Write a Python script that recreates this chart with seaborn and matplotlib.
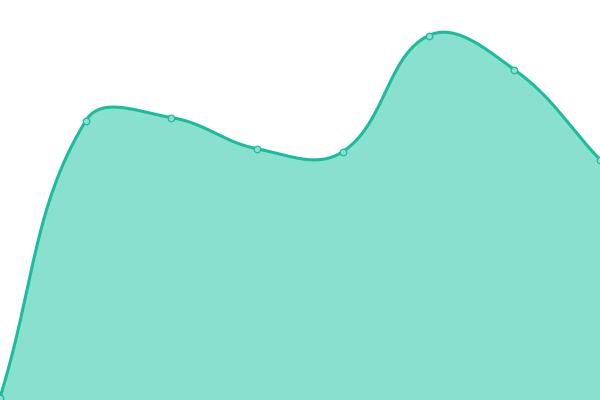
import numpy as np
import pandas as pd
import matplotlib
matplotlib.use("Agg")
import matplotlib.pyplot as plt
import seaborn as sns

# Data (y axis 0..100, hidden)
x_idx = [0, 1, 2, 3, 4, 5, 6, 7]
values = [0.6, 69.8, 70.6, 62.8, 62.1, 91.1, 82.6, 60.1]

line_color = "#1abc9c"
fill_color = "#8ae0cf"

W, H = 600, 400
x_max, y_max = 7, 100
sx, sy = W / x_max, H / y_max

# Smooth the line like a tension-0.4 spline, done in pixel space
px = np.array(x_idx, dtype=float) * sx
py = np.array(values, dtype=float) * sy
n = len(px)
tension = 0.4
cp_prev = np.zeros((n, 2))
cp_next = np.zeros((n, 2))
for i in range(n):
    cur = np.array([px[i], py[i]])
    prv = np.array([px[i - 1], py[i - 1]]) if i > 0 else cur
    nxt = np.array([px[i + 1], py[i + 1]]) if i < n - 1 else cur
    d01 = np.hypot(*(cur - prv))
    d12 = np.hypot(*(nxt - cur))
    tot = d01 + d12
    s01 = d01 / tot if tot else 0
    s12 = d12 / tot if tot else 0
    cp_prev[i] = cur - tension * s01 * (nxt - prv)
    cp_next[i] = cur + tension * s12 * (nxt - prv)
cp_prev[:, 1] = np.clip(cp_prev[:, 1], 0, H)
cp_next[:, 1] = np.clip(cp_next[:, 1], 0, H)

t = np.linspace(0, 1, 60)[:, None]
segs = []
for i in range(n - 1):
    p0 = np.array([px[i], py[i]])
    p3 = np.array([px[i + 1], py[i + 1]])
    p1, p2 = cp_next[i], cp_prev[i + 1]
    b = ((1 - t) ** 3) * p0 + 3 * ((1 - t) ** 2) * t * p1 + 3 * (1 - t) * t ** 2 * p2 + t ** 3 * p3
    segs.append(b if i == 0 else b[1:])
curve = np.vstack(segs)
smooth = pd.DataFrame({"x": curve[:, 0] / sx, "y": curve[:, 1] / sy})
pts = pd.DataFrame({"x": x_idx, "y": values})

sns.set_style("white")
fig = plt.figure(figsize=(6, 4), dpi=100)
ax = fig.add_axes([0, 0, 1, 1])

ax.fill_between(smooth["x"], smooth["y"], 0, color=fill_color, linewidth=0, zorder=1)
sns.lineplot(data=smooth, x="x", y="y", sort=False, color=line_color, linewidth=2.2,
             ax=ax, zorder=2)
sns.scatterplot(data=pts, x="x", y="y", s=22, color=fill_color, edgecolor=line_color,
                linewidth=0.9, ax=ax, zorder=3, clip_on=True)

ax.set_xlim(0, x_max)
ax.set_ylim(0, y_max)
ax.axis("off")

fig.savefig("out.png", dpi=100)
